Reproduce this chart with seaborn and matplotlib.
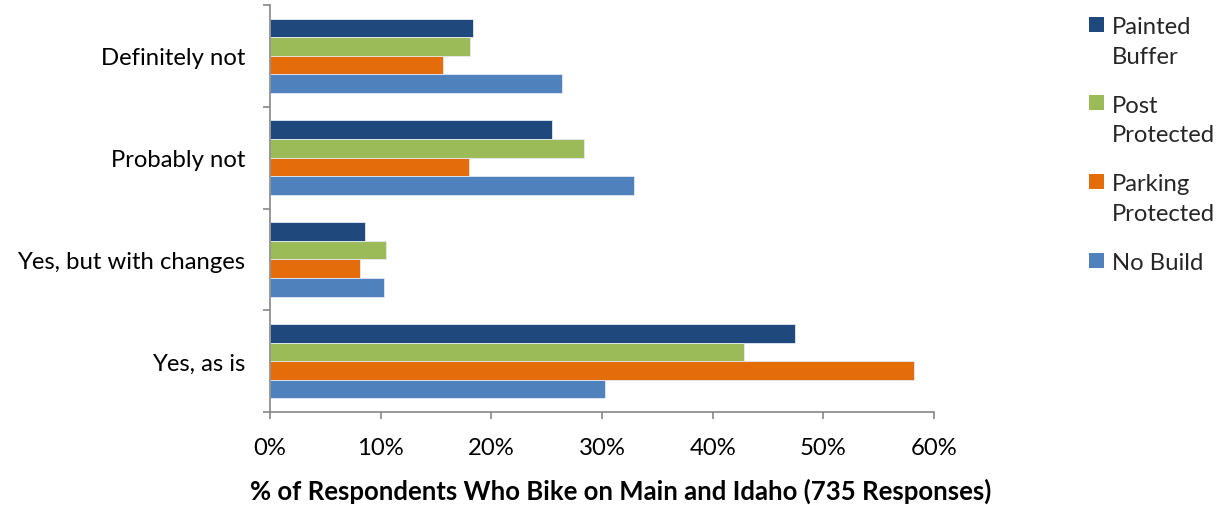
import matplotlib
matplotlib.use("Agg")
import matplotlib.pyplot as plt
import matplotlib.ticker as mticker
from matplotlib.patches import Rectangle
import pandas as pd
import seaborn as sns

categories = ["Definitely not", "Probably not", "Yes, but with changes", "Yes, as is"]
designs = ["Painted Buffer", "Post Protected", "Parking Protected", "No Build"]
legend_labels = ["Painted\nBuffer", "Post\nProtected", "Parking\nProtected", "No Build"]
colors = ["#1F497D", "#9BBB59", "#E46C0A", "#4F81BD"]

painted_buffer = [18.3, 25.5, 8.6, 47.4]
post_protected = [18.1, 28.4, 10.5, 42.8]
parking_protected = [15.6, 18.0, 8.1, 58.2]
no_build = [26.4, 32.9, 10.3, 30.3]

series = [painted_buffer, post_protected, parking_protected, no_build]
rows = []
for design, vals in zip(designs, series):
    for cat, v in zip(categories, vals):
        rows.append({"Response": cat, "Design": design, "Pct": v})
df = pd.DataFrame(rows)

sns.set_style("white")
plt.rcParams["font.family"] = ["Lato", "DejaVu Sans"]
FS = 17.2

W, H = 1223, 506
fig = plt.figure(figsize=(W / 100, H / 100), dpi=100)
ax = fig.add_axes([270 / W, 1 - 413 / H, 664 / W, 407 / H])

sns.barplot(data=df, x="Pct", y="Response", hue="Design", order=categories,
            hue_order=designs, palette=colors, orient="h", width=0.73,
            saturation=1, edgecolor="#e4eaf2", linewidth=0.6, legend=False, ax=ax)

ax.set_xlim(0, 60)
ax.set_ylim(3.5, -0.5)
ax.xaxis.set_major_locator(mticker.MultipleLocator(10))
ax.xaxis.set_major_formatter(mticker.FuncFormatter(lambda v, p: f"{v:.0f}%"))

# category separators as y ticks, labels centered between them
ax.set_yticks([-0.5, 0.5, 1.5, 2.5, 3.5])
ax.set_yticklabels([])
ax.set_yticks(range(len(categories)), minor=True)
ax.set_yticklabels(categories, minor=True)
ax.tick_params(axis="y", which="minor", left=False, length=0, pad=18,
               labelsize=FS, labelcolor="black")
ax.tick_params(axis="y", which="major", left=True, length=5, width=1.2,
               color="#868686", direction="out")
ax.tick_params(axis="x", bottom=True, length=5, width=1.2, color="#868686",
               direction="out", labelsize=FS, labelcolor="black", pad=13)

for s in ["top", "right"]:
    ax.spines[s].set_visible(False)
for s in ["left", "bottom"]:
    ax.spines[s].set_color("#868686")
    ax.spines[s].set_linewidth(1.2)

ax.set_ylabel("")
ax.set_xlabel("% of Respondents Who Bike on Main and Idaho (735 Responses)",
              fontsize=18.5, fontweight="bold", labelpad=14, color="black")
ax.xaxis.label.set_x(0.528)

# legend: square swatch beside the first line of each wrapped label
y0 = 25
for i, (lab, col) in enumerate(zip(legend_labels, colors)):
    yc = y0 + i * 78.7
    fig.patches.append(Rectangle(((1089) / W, 1 - (yc + 7.5) / H), 15 / W, 15 / H,
                                 transform=fig.transFigure, facecolor=col,
                                 edgecolor="none"))
    fig.text(1112 / W, 1 - (yc - 8) / H, lab, fontsize=FS, va="top", ha="left",
             linespacing=1.5)

fig.savefig("out.png", dpi=100)
